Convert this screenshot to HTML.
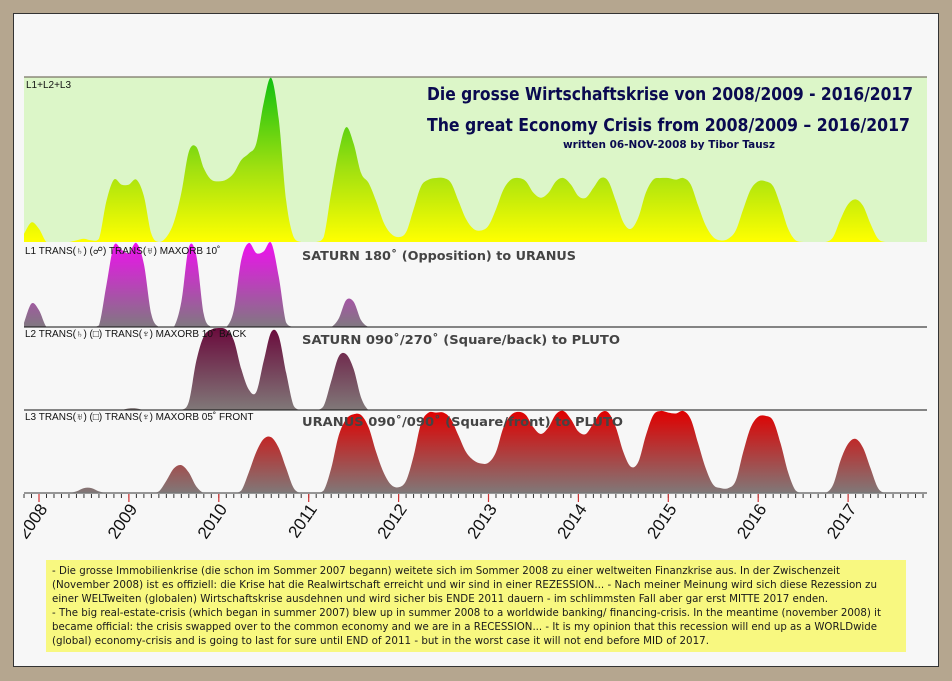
<!DOCTYPE html>
<html><head><meta charset="utf-8"><style>
html,body{margin:0;padding:0;background:#b5a68f;}
svg{display:block;}
</style></head><body>
<svg id="chart" width="952" height="681" viewBox="0 0 952 681" xmlns="http://www.w3.org/2000/svg">
<defs>
<linearGradient id="gTop" gradientUnits="userSpaceOnUse" x1="0" y1="78" x2="0" y2="242"><stop offset="0" stop-color="#10c010"/><stop offset="0.55" stop-color="#a0e010"/><stop offset="1" stop-color="#ffff00"/></linearGradient>
<linearGradient id="gL1" gradientUnits="userSpaceOnUse" x1="0" y1="243" x2="0" y2="327"><stop offset="0" stop-color="#ee10ee"/><stop offset="1" stop-color="#807880"/></linearGradient>
<linearGradient id="gL2" gradientUnits="userSpaceOnUse" x1="0" y1="328" x2="0" y2="410"><stop offset="0" stop-color="#6a0a3c"/><stop offset="1" stop-color="#807878"/></linearGradient>
<linearGradient id="gL3" gradientUnits="userSpaceOnUse" x1="0" y1="411" x2="0" y2="493"><stop offset="0" stop-color="#e00000"/><stop offset="1" stop-color="#807878"/></linearGradient>
</defs>
<rect x="0" y="0" width="952" height="681" fill="#b5a68f"/>
<rect x="13.5" y="13.5" width="925" height="653" fill="#f7f7f7" stroke="#333" stroke-width="1"/>
<rect x="24" y="77" width="903" height="165" fill="#dcf6c8"/>
<line x1="24" y1="77" x2="927" y2="77" stroke="#7a7466" stroke-width="1.2"/>
<g id="marks"></g>
<line x1="24" y1="327" x2="927" y2="327" stroke="#111" stroke-width="1"/>
<line x1="24" y1="410" x2="927" y2="410" stroke="#111" stroke-width="1"/>
<line x1="24" y1="493" x2="927" y2="493" stroke="#777" stroke-width="1.5"/>
<g id="ticks"></g>
<g font-family="Liberation Sans, sans-serif" font-size="10" fill="#111">
<text x="26" y="88">L1+L2+L3</text>
<text x="25" y="254">L1 TRANS(♄) (☍) TRANS(♅) MAXORB 10˚</text>
<text x="25" y="337">L2 TRANS(♄) (□) TRANS(♆) MAXORB 10˚ BACK</text>
<text x="25" y="420">L3 TRANS(♅) (□) TRANS(♆) MAXORB 05˚ FRONT</text>
</g>
<g font-family="DejaVu Sans, sans-serif" font-weight="bold" fill="#0a0a50">
<text x="427" y="100" font-size="18" textLength="486" lengthAdjust="spacingAndGlyphs">Die grosse Wirtschaftskrise von 2008/2009 - 2016/2017</text>
<text x="427" y="131" font-size="18" textLength="483" lengthAdjust="spacingAndGlyphs">The great Economy Crisis from 2008/2009 – 2016/2017</text>
<text x="563" y="148" font-size="10.5" textLength="212" lengthAdjust="spacingAndGlyphs">written 06-NOV-2008 by Tibor Tausz</text>
</g>
<g font-family="DejaVu Sans, sans-serif" font-weight="bold" fill="#444" font-size="12.5">
<text x="302" y="260" textLength="274" lengthAdjust="spacingAndGlyphs">SATURN 180˚ (Opposition) to URANUS</text>
<text x="302" y="344" textLength="318" lengthAdjust="spacingAndGlyphs">SATURN 090˚/270˚ (Square/back) to PLUTO</text>
<text x="302" y="426" textLength="321" lengthAdjust="spacingAndGlyphs">URANUS 090˚/090˚ (Square/front) to PLUTO</text>
</g>
<g id="years" font-family="Liberation Sans, sans-serif" font-size="17" fill="#111"></g>
<rect x="46" y="560" width="860" height="92" fill="#f8f880"/>
<g font-family="DejaVu Sans, sans-serif" font-size="10.3" fill="#1a1a1a">
<text x="52" y="574" textLength="788" lengthAdjust="spacingAndGlyphs">- Die grosse Immobilienkrise (die schon im Sommer 2007 begann) weitete sich im Sommer 2008 zu einer weltweiten Finanzkrise aus. In der Zwischenzeit</text>
<text x="52" y="588" textLength="825" lengthAdjust="spacingAndGlyphs">(November 2008) ist es offiziell: die Krise hat die Realwirtschaft erreicht und wir sind in einer REZESSION... - Nach meiner Meinung wird sich diese Rezession zu</text>
<text x="52" y="602" textLength="776" lengthAdjust="spacingAndGlyphs">einer WELTweiten (globalen) Wirtschaftskrise ausdehnen und wird sicher bis ENDE 2011 dauern - im schlimmsten Fall aber gar erst MITTE 2017 enden.</text>
<text x="52" y="616" textLength="829" lengthAdjust="spacingAndGlyphs">- The big real-estate-crisis (which began in summer 2007) blew up in summer 2008 to a worldwide banking/ financing-crisis. In the meantime (november 2008) it</text>
<text x="52" y="630" textLength="825" lengthAdjust="spacingAndGlyphs">became official: the crisis swapped over to the common economy and we are in a RECESSION... - It is my opinion that this recession will end up as a WORLDwide</text>
<text x="52" y="644" textLength="657" lengthAdjust="spacingAndGlyphs">(global) economy-crisis and  is going to last for sure until END of 2011 - but in the worst case it will not end before MID of 2017.</text>
</g>
</svg>
<script>
// monthly samples starting Nov 2007
const startYear = 2007 + 10/12;
const years = [2008,2009,2010,2011,2012,2013,2014,2015,2016,2017];
const totalValues = [0.05,0.12,0.08,0,0,0,0,0.01,0.02,0.01,0.02,0.25,0.38,0.35,0.35,0.38,0.28,0.05,0,0.03,0.12,0.3,0.55,0.58,0.45,0.38,0.37,0.38,0.42,0.5,0.54,0.6,0.85,1.0,0.75,0.25,0.03,0,0,0,0.03,0.3,0.55,0.7,0.6,0.42,0.36,0.25,0.12,0.05,0.03,0.06,0.2,0.34,0.38,0.39,0.39,0.36,0.25,0.14,0.08,0.07,0.1,0.2,0.32,0.38,0.39,0.37,0.3,0.27,0.3,0.37,0.39,0.35,0.28,0.27,0.33,0.39,0.37,0.25,0.12,0.08,0.15,0.3,0.38,0.39,0.39,0.38,0.39,0.35,0.22,0.1,0.03,0.01,0.02,0.07,0.2,0.32,0.37,0.37,0.34,0.22,0.08,0.01,0,0,0,0,0.03,0.14,0.23,0.26,0.22,0.11,0.02,0,0,0,0,0,0];
const l1Values = [0.05,0.28,0.2,0,0,0,0,0,0,0,0.02,0.5,0.97,0.92,0.88,1.0,0.75,0.15,0,0,0,0.3,0.95,0.85,0.15,0,0,0,0.2,0.8,1.0,0.88,0.9,1.0,0.6,0.05,0,0,0,0,0,0,0.1,0.32,0.3,0.08,0,0,0,0,0,0,0,0,0,0,0,0,0,0,0,0,0,0,0,0,0,0,0,0,0,0,0,0,0,0,0,0,0,0,0,0,0,0,0,0,0,0,0,0,0,0,0,0,0,0,0,0,0,0,0,0,0,0,0,0,0,0,0,0,0,0,0,0,0,0,0,0,0,0,0];
const l2Values = [0,0,0,0,0,0,0,0,0,0,0,0,0,0,0.02,0.02,0,0,0,0,0,0,0.1,0.6,0.9,0.98,1.0,0.98,0.85,0.5,0.25,0.22,0.6,0.95,0.9,0.45,0.05,0,0,0,0.05,0.35,0.65,0.68,0.5,0.15,0,0,0,0,0,0,0,0,0,0,0,0,0,0,0,0,0,0,0,0,0,0,0,0,0,0,0,0,0,0,0,0,0,0,0,0,0,0,0,0,0,0,0,0,0,0,0,0,0,0,0,0,0,0,0,0,0,0,0,0,0,0,0,0,0,0,0,0,0,0,0,0,0,0,0];
const l3Values = [0,0,0,0,0,0,0,0.02,0.06,0.06,0.02,0,0,0,0,0,0,0,0.02,0.15,0.3,0.34,0.25,0.08,0,0,0,0,0,0.03,0.25,0.5,0.66,0.68,0.55,0.3,0.06,0,0,0,0.03,0.3,0.7,0.9,0.96,0.95,0.8,0.5,0.25,0.1,0.07,0.15,0.45,0.85,0.98,0.98,0.98,0.9,0.7,0.5,0.4,0.36,0.37,0.5,0.8,0.95,0.99,0.95,0.8,0.72,0.8,0.96,1.0,0.9,0.75,0.72,0.85,0.98,0.98,0.8,0.5,0.32,0.38,0.7,0.95,1.0,0.98,0.97,1.0,0.9,0.6,0.3,0.1,0.06,0.06,0.15,0.5,0.8,0.93,0.94,0.88,0.6,0.25,0.03,0,0,0,0,0.1,0.4,0.6,0.66,0.55,0.3,0.06,0,0,0,0,0,0];

const NS='http://www.w3.org/2000/svg';
const X0=39, PXY=89.9;
function xOfYear(t){return X0+(t-2008)*PXY;}
function xOfIndex(i){return xOfYear(startYear+i/12);}
function clamp(x){return Math.max(24,Math.min(927,x));}
function areaPath(vals, yBase, scale){
  const pts=vals.map((v,i)=>[xOfIndex(i), yBase - v*scale]);
  let d='M'+clamp(pts[0][0])+','+yBase+' L'+pts[0][0]+','+pts[0][1];
  for(let i=0;i<pts.length-1;i++){
    const p0=pts[Math.max(0,i-1)],p1=pts[i],p2=pts[i+1],p3=pts[Math.min(pts.length-1,i+2)];
    let c1y=p1[1]+(p2[1]-p0[1])/6, c2y=p2[1]-(p3[1]-p1[1])/6;
    c1y=Math.min(c1y,yBase); c2y=Math.min(c2y,yBase);
    d+=' C'+(p1[0]+(p2[0]-p0[0])/6)+','+c1y+' '+(p2[0]-(p3[0]-p1[0])/6)+','+c2y+' '+p2[0]+','+p2[1];
  }
  d+=' L'+pts[pts.length-1][0]+','+yBase+' Z';
  return d;
}
const marks=document.getElementById('marks');
const clip=document.createElementNS(NS,'clipPath');clip.setAttribute('id','plotClip');
const cr=document.createElementNS(NS,'rect');cr.setAttribute('x',24);cr.setAttribute('y',70);cr.setAttribute('width',903);cr.setAttribute('height',430);
clip.appendChild(cr);document.querySelector('defs').appendChild(clip);
marks.setAttribute('clip-path','url(#plotClip)');
function addArea(vals,base,scale,fill,name){
  const p=document.createElementNS(NS,'path');
  p.setAttribute('d',areaPath(vals,base,scale));
  p.setAttribute('fill',fill);
  
  
  marks.appendChild(p);
}
addArea(totalValues,242,164,'url(#gTop)','total-area');
addArea(l1Values,327,84,'url(#gL1)','l1-area');
addArea(l2Values,410,82,'url(#gL2)','l2-area');
addArea(l3Values,493,82,'url(#gL3)','l3-area');

const ticks=document.getElementById('ticks');
for(let i=0;i<=120;i++){
  const x=xOfIndex(i); if(x<24||x>927) continue;
  const l=document.createElementNS(NS,'line');
  l.setAttribute('x1',x);l.setAttribute('x2',x);l.setAttribute('y1',494);l.setAttribute('y2',498);
  l.setAttribute('stroke','#333');l.setAttribute('stroke-width','1');
  
  
  ticks.appendChild(l);
}
const yg=document.getElementById('years');
years.forEach(y=>{
  const x=xOfYear(y);
  const l=document.createElementNS(NS,'line');
  l.setAttribute('x1',x);l.setAttribute('x2',x);l.setAttribute('y1',494);l.setAttribute('y2',502);
  l.setAttribute('stroke','#d03030');l.setAttribute('stroke-width','1.2');
  
  
  ticks.appendChild(l);
  const t=document.createElementNS(NS,'text');
  t.setAttribute('x',x+9);t.setAttribute('y',509);
  t.setAttribute('text-anchor','end');
  t.setAttribute('transform','rotate(-55 '+(x+9)+' 509)');
  t.textContent=String(y);
  
  
  yg.appendChild(t);
});
const yc=document.createElementNS(NS,'clipPath');yc.setAttribute('id','yearClip');
const yr=document.createElementNS(NS,'rect');yr.setAttribute('x',24);yr.setAttribute('y',495);yr.setAttribute('width',910);yr.setAttribute('height',60);
yc.appendChild(yr);document.querySelector('defs').appendChild(yc);
yg.setAttribute('clip-path','url(#yearClip)');
</script>
</body></html>
